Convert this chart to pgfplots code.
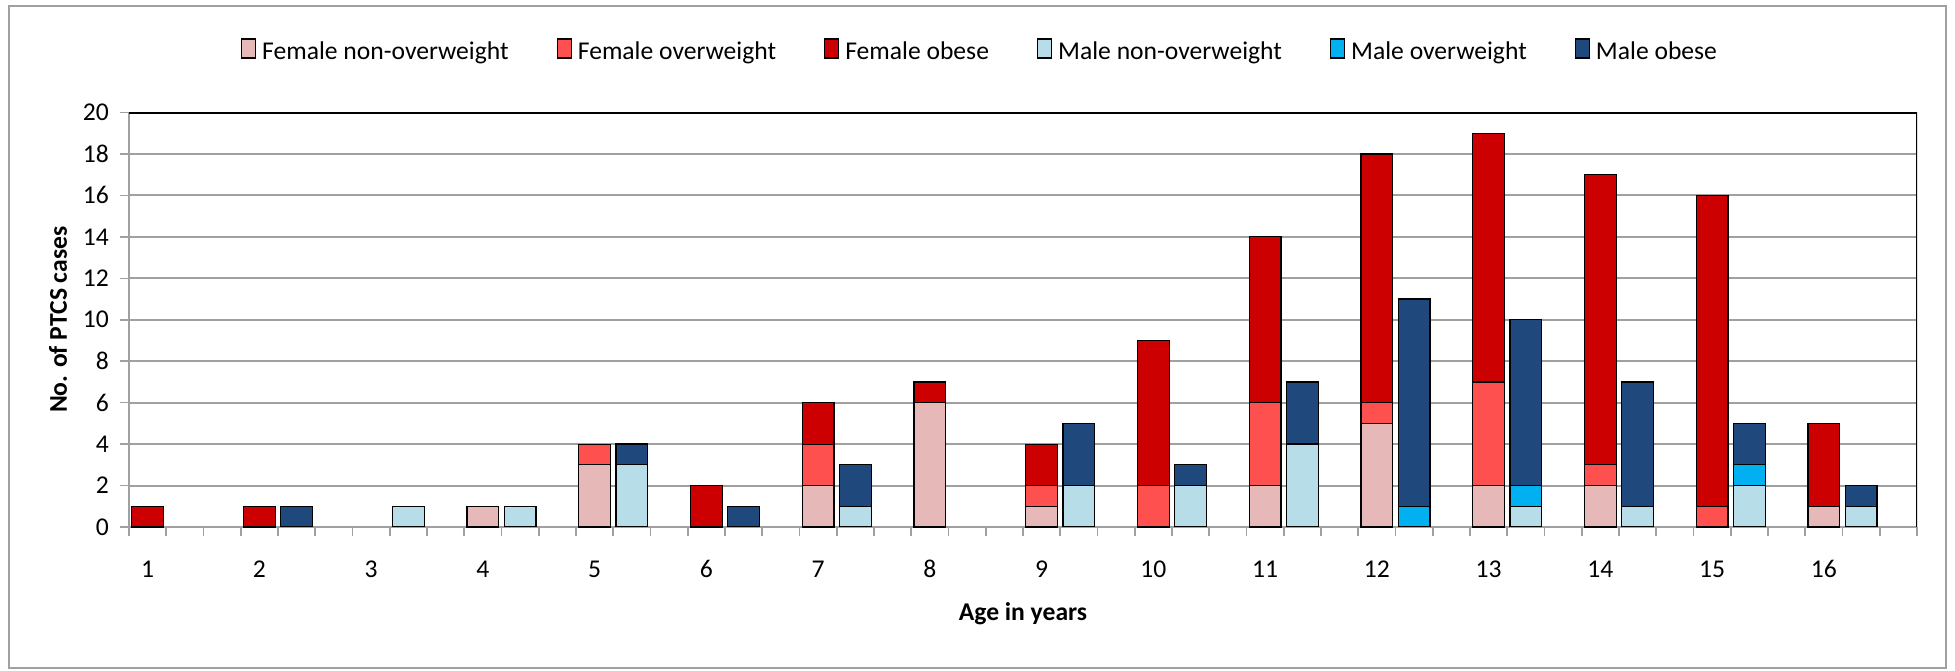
\documentclass[border=0pt]{standalone}
\usepackage{fontspec}
\setmainfont{Carlito}
\usepackage{pgfplots}
\usepackage{pgfplotstable}
\pgfplotsset{compat=1.18}

\definecolor{fnon}{HTML}{E6B9B8}
\definecolor{fow}{HTML}{FF5050}
\definecolor{fob}{HTML}{CC0000}
\definecolor{mnon}{HTML}{B7DEE8}
\definecolor{mow}{HTML}{00B0F0}
\definecolor{mob}{HTML}{1F497D}
\definecolor{gridgray}{HTML}{A0A0A0}

\newcommand{\fs}{\fontsize{12.8pt}{15pt}\selectfont}

% female bars sit in slot 3(age-1), male bars in slot 3(age-1)+1
\pgfplotstableread{
x  non ow ob
0  0 0 1
3  0 0 1
9  1 0 0
12 3 1 0
15 0 0 2
18 2 2 2
21 6 0 1
24 1 1 2
27 0 2 7
30 2 4 8
33 5 1 12
36 2 5 12
39 2 1 14
42 0 1 15
45 1 0 4
}\female

\pgfplotstableread{
x  non ow ob
4  0 0 1
7  1 0 0
10 1 0 0
13 3 0 1
16 0 0 1
19 1 0 2
25 2 0 3
28 2 0 1
31 4 0 3
34 0 1 10
37 1 1 8
40 1 0 6
43 2 1 2
46 1 0 1
}\male

\pgfplotsset{
  base/.style={
    scale only axis,
    width=894pt, height=207.25pt,
    at={(64.5pt,71.5pt)}, anchor=south west,
    xmin=-0.5, xmax=47.5,
    ymin=0, ymax=20,
    ybar stacked,
    bar width=0.85,
    every axis plot/.append style={draw=black, line width=0.6pt},
  },
}

\begin{document}
\begin{tikzpicture}
\useasboundingbox (0,0) rectangle (977.5pt,335pt);
\draw[gridgray, line width=1pt] (4.35pt,1pt) rectangle (972.85pt,332.15pt);

\begin{axis}[
  base,
  axis x line*=bottom,
  axis y line*=left,
  axis line style={gridgray, line width=1pt},
  tick align=outside,
  major tick length=4.5pt,
  tick style={gridgray, line width=0.8pt},
  ytick={0,2,...,20},
  ymajorgrids,
  grid style={gridgray, line width=1pt},
  xtick={-0.5,0.5,...,47.5},
  xticklabels={},
  extra x ticks={0,3,...,45},
  extra x tick labels={1,2,3,4,5,6,7,8,9,10,11,12,13,14,15,16},
  extra x tick style={major tick length=0pt, grid=none,
    xticklabel style={anchor=center, yshift=-21pt}},
  tick label style={font=\fs, black},
  /pgf/number format/assume math mode=true,
  yticklabel style={anchor=east, xshift=-2pt},
  xlabel={Age in years},
  ylabel={No. of PTCS cases},
  label style={font=\fs\bfseries},
  xlabel style={at={(axis description cs:0.5,-0.21)}, anchor=center},
  ylabel style={at={(axis description cs:-0.0397,0.5)}, anchor=center},
  legend columns=6,
  legend style={draw=none, fill=none, font=\fs,
    at={(0.4765,1.146)}, anchor=center,
    /tikz/every odd column/.append style={column sep=1pt},
    /tikz/every even column/.append style={column sep=22pt}},
  legend image code/.code={
    \draw[#1, draw=black, line width=0.6pt] (0pt,-3pt) rectangle (7pt,6.5pt);},
]
\addplot[fill=fnon] table[x=x, y=non] {\female};
\addlegendentry{Female non-overweight}
\addplot[fill=fow] table[x=x, y=ow] {\female};
\addlegendentry{Female overweight}
\addplot[fill=fob] table[x=x, y=ob] {\female};
\addlegendentry{Female obese}
\addlegendimage{fill=mnon}
\addlegendentry{Male non-overweight}
\addlegendimage{fill=mow}
\addlegendentry{Male overweight}
\addlegendimage{fill=mob}
\addlegendentry{Male obese}
\draw[black, line width=1pt] (rel axis cs:0,1) -- (rel axis cs:1,1) -- (rel axis cs:1,0);
\end{axis}

\begin{axis}[base, hide axis]
\addplot[fill=mnon] table[x=x, y=non] {\male};
\addplot[fill=mow] table[x=x, y=ow] {\male};
\addplot[fill=mob] table[x=x, y=ob] {\male};
\end{axis}
\end{tikzpicture}
\end{document}
